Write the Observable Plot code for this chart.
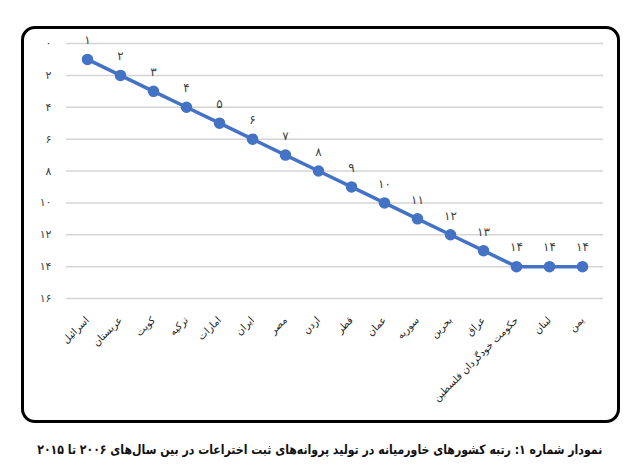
<!DOCTYPE html>
<html>
<head>
<meta charset="utf-8">
<script src="https://cdn.jsdelivr.net/npm/d3@7"></script>
<script src="https://cdn.jsdelivr.net/npm/@observablehq/plot@0.6"></script>
<style>
  html, body { margin: 0; padding: 0; background: #fff; }
  body { width: 640px; height: 473px; position: relative; overflow: hidden; font-family: "DejaVu Sans", sans-serif; }
  #chart { position: absolute; left: 0; top: 0; }
  #frame { position: absolute; left: 21px; top: 26px; width: 599px; height: 397px; box-sizing: border-box;
           border: 3px solid #000; border-radius: 14px; pointer-events: none; }
  #capwrap { position: absolute; left: -500px; top: 439px; width: 1640px; text-align: center; }
  #caption { display: inline-block; white-space: nowrap; direction: rtl; transform-origin: center center;
             font-family: "DejaVu Sans", sans-serif; font-weight: bold; font-size: 13px; color: #111; }
</style>
</head>
<body>
<div id="chart"></div>
<div id="frame"></div>
<div id="capwrap"><span id="caption"></span></div>
<script>
const countries = ["اسرائیل","عربستان","کویت","ترکیه","امارات","ایران","مصر","اردن","قطر","عمان","سوریه","بحرین","عراق","حکومت خودگردان فلسطین","لبنان","یمن"];
const ranks = [1,2,3,4,5,6,7,8,9,10,11,12,13,14,14,14];
const yTicks = [0,2,4,6,8,10,12,14,16];
const captionText = "نمودار شماره ۱: رتبه کشورهای خاورمیانه در تولید پروانه‌های ثبت اختراعات در بین سال‌های ۲۰۰۶ تا ۲۰۱۵";

const fa = d => String(d).replace(/\d/g, c => "۰۱۲۳۴۵۶۷۸۹"[+c]);
const data = countries.map((c, i) => ({country: c, rank: ranks[i]}));
const blue = "#4472C4";

const chart = Plot.plot({
  width: 640,
  height: 425,
  marginLeft: 66,
  marginRight: 37,
  marginTop: 43,
  marginBottom: 127,
  style: {fontFamily: "DejaVu Sans, sans-serif", background: "transparent"},
  x: {type: "point", domain: countries, padding: 0.5, axis: null},
  y: {domain: [0, 16], reverse: true, axis: null},
  marks: [
    Plot.gridY(yTicks, {stroke: "#d4d4d4", strokeOpacity: 1, strokeWidth: 1.5}),
    Plot.axisY(yTicks, {tickSize: 0, tickPadding: 15, tickFormat: fa, fontSize: 11, fill: "#404040", label: null}),
    Plot.line(data, {x: "country", y: "rank", stroke: blue, strokeWidth: 3.5}),
    Plot.dot(data, {x: "country", y: "rank", r: 5, fill: blue, stroke: blue}),
    Plot.text(data, {x: "country", y: "rank", text: d => fa(d.rank), dy: -19, fontSize: 12, fill: "#404040"}),
    Plot.text(data, {x: "country", frameAnchor: "bottom", text: "country", dy: 20, rotate: -45,
                     textAnchor: "end", lineAnchor: "middle", fontSize: 10, fill: "#222"})
  ]
});
document.getElementById("chart").appendChild(chart);
const cap = document.getElementById("caption");
cap.textContent = captionText;
const w = cap.getBoundingClientRect().width;
cap.style.transform = `scaleX(${565 / w})`;
</script>
</body>
</html>
